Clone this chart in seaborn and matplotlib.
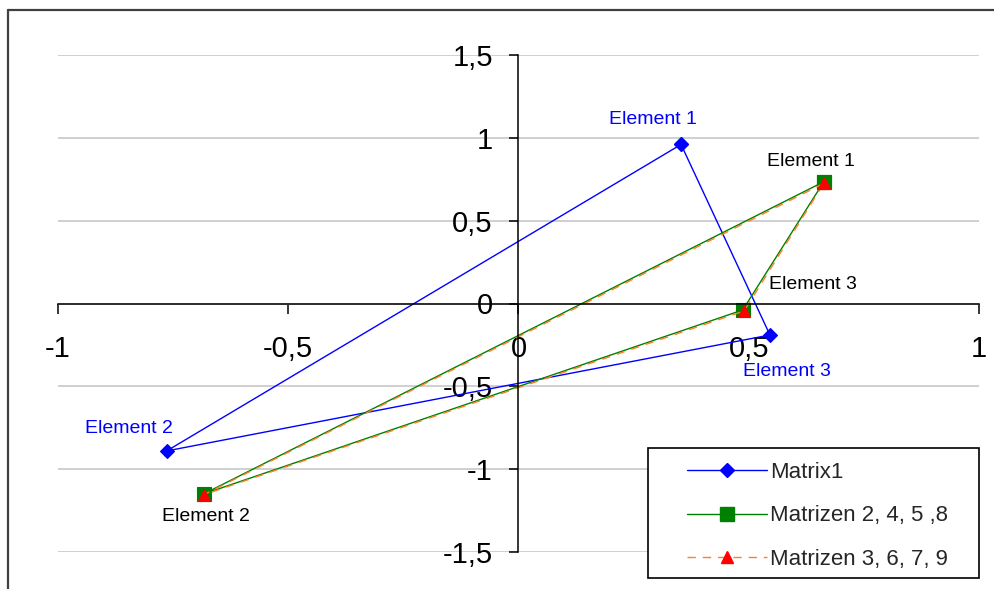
import matplotlib
matplotlib.use("Agg")
import matplotlib.pyplot as plt
from matplotlib.lines import Line2D
from matplotlib.patches import Rectangle
from matplotlib.ticker import FixedLocator, FixedFormatter
import pandas as pd
import seaborn as sns

# Point labels (order of the triangle's corners)
elements = ["Element 1", "Element 2", "Element 3"]

# Matrix 1
m1_x = [0.353, -0.764, 0.546]
m1_y = [0.960, -0.890, -0.190]

# Matrices 2, 4, 5, 8
m2_x = [0.663, -0.684, 0.487]
m2_y = [0.735, -1.150, -0.039]

# Matrices 3, 6, 7, 9
m3_x = [0.663, -0.684, 0.490]
m3_y = [0.725, -1.155, -0.045]

series_names = ["Matrix1", "Matrizen 2, 4, 5 ,8", "Matrizen 3, 6, 7, 9"]

x_ticks = [-1, -0.5, 0, 0.5, 1]
x_tick_labels = ["-1", "-0,5", "0", "0,5", "1"]
y_ticks = [-1.5, -1, -0.5, 0, 0.5, 1, 1.5]
y_tick_labels = ["-1,5", "-1", "-0,5", "0", "0,5", "1", "1,5"]

sns.set_style("white")
plt.rcParams["font.family"] = ["Liberation Sans", "DejaVu Sans"]
plt.rcParams["axes.unicode_minus"] = False

fig = plt.figure(figsize=(9.95, 5.89), dpi=100)
ax = fig.add_axes([58 / 995, 1 - 552 / 589, 921 / 995, 497 / 589])


def closed(xs, ys):
    """Triangle outline: repeat the first corner at the end."""
    return pd.DataFrame({"x": list(xs) + [xs[0]], "y": list(ys) + [ys[0]]})


styles = [
    dict(color="#0000FF", marker="D", markersize=7, markerfacecolor="#0000FF",
         markeredgecolor="#0000FF", linestyle="-"),
    dict(color="#008000", marker="s", markersize=10, markerfacecolor="#008000",
         markeredgecolor="#008000", linestyle="-"),
    dict(color="#FF7F27", marker="^", markersize=9, markerfacecolor="#FF0000",
         markeredgecolor="#FF0000", linestyle=(0, (6, 5))),
]

handles = []
for (xs, ys), name, st in zip([(m1_x, m1_y), (m2_x, m2_y), (m3_x, m3_y)],
                              series_names, styles):
    sns.lineplot(data=closed(xs, ys), x="x", y="y", sort=False, estimator=None,
                 ax=ax, linewidth=1.0, markeredgewidth=0.8, legend=False, **st)
    handles.append(Line2D([], [], color=st["color"], linestyle=st["linestyle"],
                          linewidth=1.0, marker=st["marker"],
                          markersize=st["markersize"],
                          markerfacecolor=st["markerfacecolor"],
                          markeredgecolor=st["markeredgecolor"]))

# Point labels
blue_offsets = [(-28, 25), (-38, 22), (17, -37)]
black_offsets = [(-13, 20), (2, -22), (70, 25)]
for name, x, y, off in zip(elements, m1_x, m1_y, blue_offsets):
    ax.annotate(name, (x, y), xytext=(off[0] * 0.72, off[1] * 0.72),
                textcoords="offset points", ha="center", va="center",
                fontsize=14, color="#0000FF")
for name, x, y, off in zip(elements, m2_x, m2_y, black_offsets):
    ax.annotate(name, (x, y), xytext=(off[0] * 0.72, off[1] * 0.72),
                textcoords="offset points", ha="center", va="center",
                fontsize=14, color="black")

# Axes crossing at the origin
ax.set_xlim(-1, 1)
ax.set_ylim(-1.5, 1.5)
ax.spines["left"].set_position("zero")
ax.spines["bottom"].set_position("zero")
ax.spines["top"].set_visible(False)
ax.spines["right"].set_visible(False)
for s in ("left", "bottom"):
    ax.spines[s].set_color("black")
    ax.spines[s].set_linewidth(1.1)

ax.xaxis.set_major_locator(FixedLocator(x_ticks))
ax.xaxis.set_major_formatter(FixedFormatter(x_tick_labels))
ax.yaxis.set_major_locator(FixedLocator(y_ticks))
ax.yaxis.set_major_formatter(FixedFormatter(y_tick_labels))
ax.tick_params(axis="x", direction="out", length=7, width=1.1, pad=16,
               labelsize=21, colors="black")
ax.tick_params(axis="y", direction="out", length=6.5, width=1.1, pad=12,
               labelsize=21, colors="black")
ax.tick_params(axis="both", left=True, bottom=True)
ax.set_xlabel("")
ax.set_ylabel("")

ax.yaxis.grid(True, color="#c8c8c8", linewidth=1.2)
ax.xaxis.grid(False)
ax.set_axisbelow(True)
ax.patch.set_alpha(0)

# Legend box
fig.add_artist(Rectangle((648 / 995, 1 - 578 / 589), 331 / 995, 130 / 589,
                         transform=fig.transFigure, facecolor="white",
                         edgecolor="black", linewidth=1.2, zorder=3))
fig.legend(handles, series_names, loc="upper left",
           bbox_to_anchor=(676 / 995, 1 - 451 / 589), frameon=False,
           fontsize=16, handlelength=3.6, handletextpad=0.15,
           labelspacing=1.0, borderpad=0, numpoints=1)

# Chart border (top and left edges)
fig.add_artist(Line2D([8 / 995, 1.0], [1 - 10 / 589, 1 - 10 / 589],
                      transform=fig.transFigure, color="#404040", linewidth=1.6))
fig.add_artist(Line2D([8 / 995, 8 / 995], [0.0, 1 - 10 / 589],
                      transform=fig.transFigure, color="#404040", linewidth=1.6))

fig.savefig("out.png", dpi=100)
